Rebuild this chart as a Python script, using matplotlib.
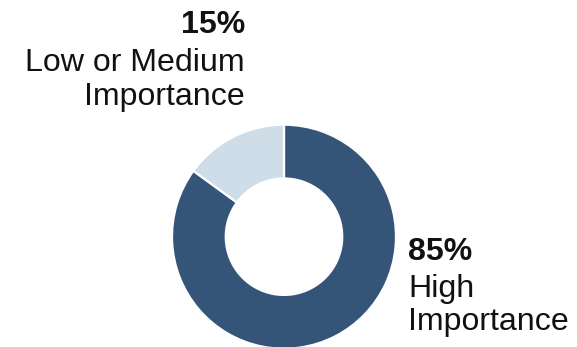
import matplotlib
matplotlib.use('Agg')
import matplotlib.pyplot as plt

# Data
labels = ["High\nImportance", "Low or Medium\nImportance"]
values = [85, 15]
colors = ["#355578", "#cfdde9"]

W, H = 577, 347
plt.rcParams['font.family'] = ['Liberation Sans', 'DejaVu Sans']

fig = plt.figure(figsize=(W / 100, H / 100), dpi=100)

# donut: centre (284, 236.7) px from top, radius 112 px
cx, cy, r = 284, 236.7, 112
ax = fig.add_axes([(cx - r) / W, (H - cy - r) / H, 2 * r / W, 2 * r / H])
wedges, _ = ax.pie(values, colors=colors, startangle=90, counterclock=False,
                   radius=1, wedgeprops=dict(width=0.48, edgecolor="white", linewidth=1.6))
for w in wedges:
    w.set_clip_on(False)
ax.set_xlim(-1, 1)
ax.set_ylim(-1, 1)
ax.set_aspect('equal')
ax.axis('off')

fs = 23.1
def px(x, y):
    return x / W, 1 - y / H

# High importance label (right)
fig.text(*px(408, 260), f"{values[0]}%", fontsize=fs, fontweight='bold',
         ha='left', va='baseline', color='#111111')
fig.text(*px(408, 296.7), labels[0].split("\n")[0], fontsize=fs,
         ha='left', va='baseline', color='#111111')
fig.text(*px(408, 330), labels[0].split("\n")[1], fontsize=fs,
         ha='left', va='baseline', color='#111111')

# Low or Medium label (top left)
fig.text(*px(245, 33.3), f"{values[1]}%", fontsize=fs, fontweight='bold',
         ha='right', va='baseline', color='#111111')
fig.text(*px(245, 71), labels[1].split("\n")[0], fontsize=fs,
         ha='right', va='baseline', color='#111111')
fig.text(*px(245, 104.5), labels[1].split("\n")[1], fontsize=fs,
         ha='right', va='baseline', color='#111111')

fig.savefig("out.png", dpi=100)
